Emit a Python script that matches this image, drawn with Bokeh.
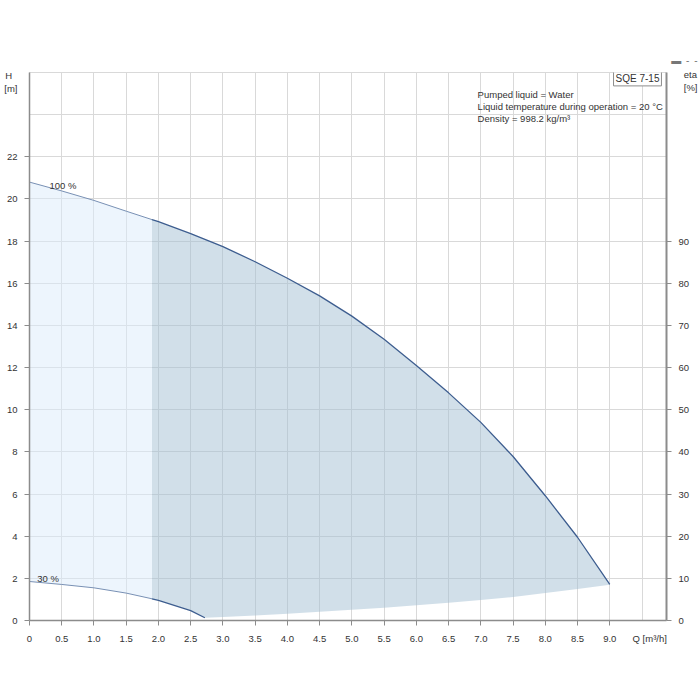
from bokeh.plotting import figure
from bokeh.models import Range1d, LinearAxis, FixedTicker, Label, Title
from bokeh.embed import file_html
from bokeh.resources import INLINE

# ---- data ----
q_100 = [0.0, 0.5, 1.0, 1.5, 1.9, 2.0, 2.5, 3.0, 3.5, 4.0, 4.5, 5.0, 5.5, 6.0, 6.5, 7.0, 7.5, 8.0, 8.5, 9.0]
h_100 = [20.8, 20.38, 19.93, 19.42, 19.02, 18.92, 18.36, 17.74, 17.02, 16.24, 15.4, 14.44, 13.34, 12.1, 10.8, 9.4, 7.78, 5.92, 3.95, 1.71]
q_30 = [0.0, 0.5, 1.0, 1.5, 1.9, 2.0, 2.5, 2.72]
h_30 = [1.85, 1.71, 1.55, 1.3, 1.03, 0.95, 0.47, 0.13]
q_low = [2.72, 3.0, 3.5, 4.0, 4.5, 5.0, 5.5, 6.0, 6.5, 7.0, 7.5, 8.0, 8.5, 9.0]
h_low = [0.13, 0.17, 0.24, 0.32, 0.41, 0.51, 0.61, 0.72, 0.84, 0.97, 1.12, 1.3, 1.49, 1.7]
q_split = 1.9

x_ticks = [0, 0.5, 1, 1.5, 2, 2.5, 3, 3.5, 4, 4.5, 5, 5.5, 6, 6.5, 7, 7.5, 8, 8.5, 9]
x_tick_labels = ["0", "0.5", "1.0", "1.5", "2.0", "2.5", "3.0", "3.5", "4.0", "4.5", "5.0",
                 "5.5", "6.0", "6.5", "7.0", "7.5", "8.0", "8.5", "9.0"]
x_grid = x_ticks + [9.5]
h_ticks = [0, 2, 4, 6, 8, 10, 12, 14, 16, 18, 20, 22]
h_grid = h_ticks + [24]
eta_ticks = [0, 10, 20, 30, 40, 50, 60, 70, 80, 90]

x_title, x_title_pos = "Q [m³/h]", 9.62
h_title, h_title_pos = "H\u00a0\u00a0\n[m]", 25.55
eta_title, eta_title_pos = "\u00a0\u00a0eta\n\u00a0\u00a0[%]", 127.9

info_lines = ["Pumped liquid = Water",
              "Liquid temperature during operation = 20 °C",
              "Density = 998.2 kg/m³"]

FONT = "Liberation Sans"
TXT = "#333333"
AX = "#8c8c8c"

p = figure(width=700, height=695, output_backend="svg", toolbar_location=None,
           x_range=Range1d(0, 9.88), y_range=Range1d(0, 26),
           min_border_left=29, min_border_right=34, min_border_top=72, min_border_bottom=75)
p.extra_y_ranges = {"eta": Range1d(0, 130)}
p.outline_line_color = "#d9d9d9"

# grids
p.xgrid.ticker = FixedTicker(ticks=x_grid)
p.ygrid.ticker = FixedTicker(ticks=h_grid)
for g in (p.xgrid, p.ygrid):
    g.grid_line_color = "#d9d9d9"
    g.grid_line_width = 1

def style_axis(ax, ticks, title, title_pos, labels=None):
    ax.ticker = FixedTicker(ticks=list(ticks) + [title_pos], minor_ticks=list(ticks))
    ov = {} if labels is None else {t: s for t, s in zip(ticks, labels)}
    ov[title_pos] = title
    ax.major_label_overrides = ov
    ax.axis_line_color = AX
    ax.axis_line_width = 1.5
    ax.major_tick_out = 0
    ax.major_tick_in = 0
    ax.minor_tick_line_color = AX
    ax.minor_tick_out = 5
    ax.minor_tick_in = 0
    ax.major_label_text_font = FONT
    ax.major_label_text_font_size = "9.5px"
    ax.major_label_text_color = TXT
    ax.major_label_standoff = 7

style_axis(p.xaxis[0], x_ticks, x_title, x_title_pos, x_tick_labels)
style_axis(p.yaxis[0], h_ticks, h_title, h_title_pos)

ra = LinearAxis(y_range_name="eta")
style_axis(ra, eta_ticks, eta_title, eta_title_pos)
ra.axis_line_width = 2
p.add_layout(ra, "right")

# legend fragment at the top-right corner
p.add_layout(Title(text="▬\u2009 ‐ \u2009‐", align="right", offset=-31, text_font=FONT,
                   text_font_size="10px", text_color="#777777", text_font_style="normal",
                   standoff=13), "above")

# light region (0 .. 1.9) between 30% and 100% curves
i100 = q_100.index(q_split)
i30 = q_30.index(q_split)
light_x = q_100[:i100 + 1] + q_30[:i30 + 1][::-1]
light_y = h_100[:i100 + 1] + h_30[:i30 + 1][::-1]
p.patch(light_x, light_y, fill_color="#dcecfc", fill_alpha=0.5, line_color=None)

# dark region
dark_x = q_100[i100:] + q_low[::-1] + q_30[i30:][::-1]
dark_y = h_100[i100:] + h_low[::-1] + h_30[i30:][::-1]
p.patch(dark_x, dark_y, fill_color="#a4bfd4", fill_alpha=0.5, line_color=None)

# curves
p.line(q_100[:i100 + 1], h_100[:i100 + 1], line_color="#7890b4", line_width=1)
p.line(q_100[i100:], h_100[i100:], line_color="#3d5d8f", line_width=1.3)
p.line(q_30[:i30 + 1], h_30[:i30 + 1], line_color="#7890b4", line_width=1)
p.line(q_30[i30:], h_30[i30:], line_color="#3d5d8f", line_width=1.3)

def lab(x, y, text, align="left", size="9.5px", color=TXT, **kw):
    p.add_layout(Label(x=x, y=y, text=text, text_align=align, text_baseline="middle",
                       text_font=FONT, text_font_size=size, text_color=color, **kw))

lab(0.31, 20.62, "100 %")
lab(0.12, 2.0, "30 %")
for k, t in enumerate(info_lines):
    lab(6.95, 24.94 - 0.57 * k, t)
lab(9.43, 25.72, "SQE 7-15", align="center", size="10px",
    border_line_color=AX, border_line_width=1, background_fill_color="white",
    padding=2)

open("out.html", "w").write(file_html(p, INLINE))
